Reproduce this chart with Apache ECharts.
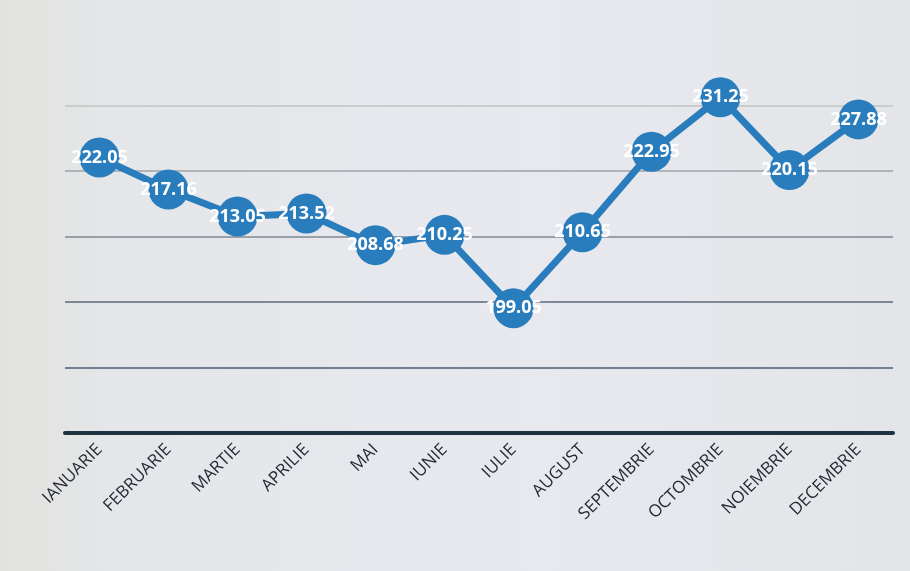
<!DOCTYPE html>
<html>
<head>
<meta charset="utf-8">
<script src="https://cdn.jsdelivr.net/npm/echarts@6/dist/echarts.min.js"></script>
<style>
html,body{margin:0;padding:0;background:#e5e8ee;}
#c{width:910px;height:571px;}
</style>
</head>
<body>
<div id="c"></div>
<script>
const months = ['IANUARIE','FEBRUARIE','MARTIE','APRILIE','MAI','IUNIE','IULIE','AUGUST','SEPTEMBRIE','OCTOMBRIE','NOIEMBRIE','DECEMBRIE'];
const values = [222.05, 217.16, 213.05, 213.52, 208.68, 210.25, 199.05, 210.65, 222.95, 231.25, 220.15, 227.88];
const yMin = 180, yMax = 240, yStep = 10;

const chart = echarts.init(document.getElementById('c'));
chart.setOption({
  backgroundColor: {
    type: 'linear', x: 0, y: 0, x2: 1, y2: 0,
    colorStops: [
      {offset: 0, color: '#e2e3de'},
      {offset: 0.12, color: '#e4e6e9'},
      {offset: 0.6, color: '#e7e9ef'},
      {offset: 1, color: '#e3e5e8'}
    ]
  },
  animation: false,
  grid: {left: 65, right: 17, top: 40, bottom: 138},
  xAxis: {
    type: 'category',
    data: months,
    boundaryGap: true,
    axisLine: {lineStyle: {color: '#1e3340', width: 4}},
    axisTick: {show: false},
    axisLabel: {rotate: 45, color: '#262833', fontSize: 17, fontFamily: 'Open Sans', margin: 14, interval: 0}
  },
  yAxis: {
    type: 'value',
    min: yMin, max: yMax, interval: yStep,
    axisLine: {show: false},
    axisTick: {show: false},
    axisLabel: {show: false},
    splitLine: {lineStyle: {color: ['#1e3340', '#4d5c70', '#5a687a', '#7e8892', '#9ca4a8', '#c2c4c2', 'rgba(0,0,0,0)'], width: 1.5}}
  },
  series: [{
    type: 'line',
    data: values,
    symbol: 'circle',
    symbolSize: 40,
    lineStyle: {color: '#2a7dbd', width: 7},
    itemStyle: {color: '#2a7dbd'},
    label: {
      show: true,
      position: 'inside',
      color: '#ffffff',
      fontSize: 18,
      fontWeight: 'bold',
      fontFamily: 'Open Sans',
      formatter: p => p.value.toFixed(2)
    }
  }]
});
</script>
</body>
</html>
